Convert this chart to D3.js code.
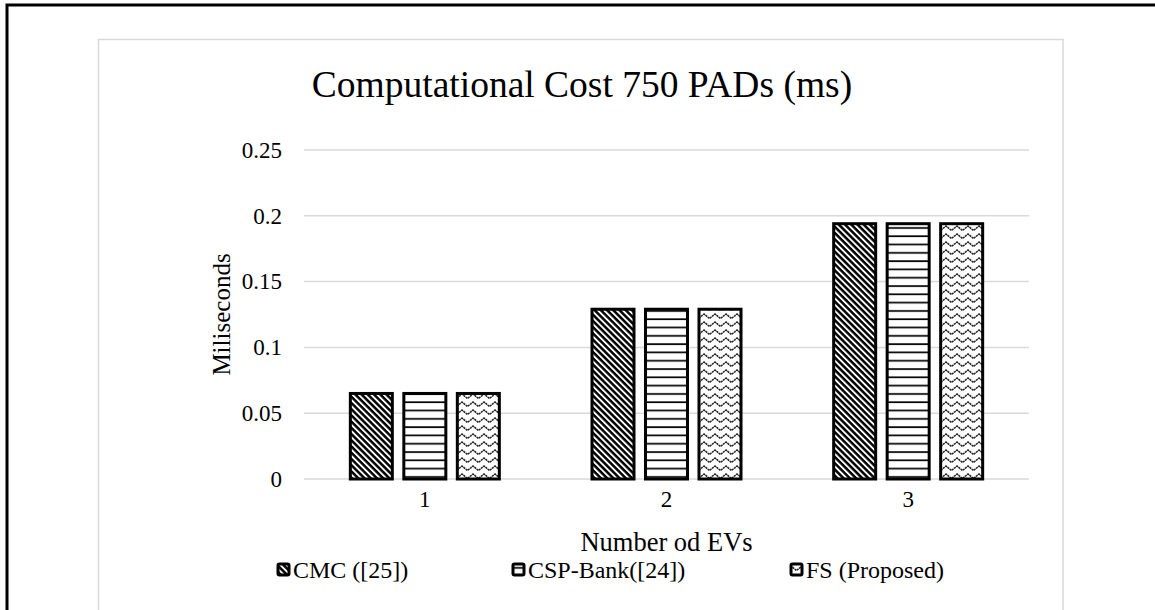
<!DOCTYPE html>
<html>
<head>
<meta charset="utf-8">
<script src="https://cdn.jsdelivr.net/npm/d3@7"></script>
<style>
    body { margin: 0; background: #fff; }
    svg text { font-family: "Liberation Serif", "Times New Roman", serif; fill: #000; }
</style>
</head>
<body>
<div id="chart"></div>
<script>
// data
const categories = ["1", "2", "3"];
const seriesNames = ["CMC ([25])", "CSP-Bank([24])", "FS (Proposed)"];
const cmcValues = [0.065, 0.129, 0.194];
const cspValues = [0.065, 0.129, 0.194];
const fsValues = [0.065, 0.129, 0.194];
const yTicks = [0, 0.05, 0.1, 0.15, 0.2, 0.25];
const patternIds = ["patDiag", "patHoriz", "patZig"];

const seriesValues = [cmcValues, cspValues, fsValues];
const rows = [];
categories.forEach((cat, ci) => {
    seriesNames.forEach((s, si) => {
        rows.push({cat: cat, series: s, si: si, value: seriesValues[si][ci]});
    });
});

const W = 1155, H = 610;
const plot = {left: 304, right: 1029, top: 150, bottom: 479};

const svg = d3.select("#chart").append("svg")
    .attr("width", W)
    .attr("height", H);

// patterns
const defs = svg.append("defs");
const diag = defs.append("pattern")
    .attr("id", "patDiag")
    .attr("patternUnits", "userSpaceOnUse")
    .attr("width", 4.4).attr("height", 4.4)
    .attr("patternTransform", "rotate(45)");
diag.append("rect").attr("width", 4.4).attr("height", 4.4).attr("fill", "#fff");
diag.append("rect").attr("width", 4.4).attr("height", 2.5).attr("fill", "#000");

const horiz = defs.append("pattern")
    .attr("id", "patHoriz")
    .attr("patternUnits", "userSpaceOnUse")
    .attr("width", 10).attr("height", 8.3);
horiz.append("rect").attr("width", 10).attr("height", 8.3).attr("fill", "#fff");
horiz.append("rect").attr("y", 3).attr("width", 10).attr("height", 1.7).attr("fill", "#000");

const zig = defs.append("pattern")
    .attr("id", "patZig")
    .attr("patternUnits", "userSpaceOnUse")
    .attr("width", 11).attr("height", 8);
zig.append("rect").attr("width", 11).attr("height", 8).attr("fill", "#fff");
zig.append("path")
    .attr("d", "M-2.75,4.5 L0,2 L5.5,6.5 L11,2 L13.75,4.5")
    .attr("fill", "none")
    .attr("stroke", "#222")
    .attr("stroke-width", 1.5)
    .attr("stroke-dasharray", "2.2,0.6");

// outer frame and chart area
svg.append("rect")
    .attr("x", 7).attr("y", 5)
    .attr("width", 1300).attr("height", 800)
    .attr("fill", "none")
    .attr("stroke", "#000")
    .attr("stroke-width", 3);
svg.append("rect")
    .attr("x", 98.5).attr("y", 39.5)
    .attr("width", 964.5).attr("height", 600)
    .attr("fill", "#fff")
    .attr("stroke", "#d9d9d9")
    .attr("stroke-width", 1.5);

// scales
const xScale = d3.scaleBand()
    .domain(categories)
    .range([plot.left, plot.right])
    .paddingInner(0).paddingOuter(0);
const xSub = d3.scaleBand()
    .domain(seriesNames)
    .range([-74.5, 74.5])
    .paddingInner(0.215).paddingOuter(0);
const yScale = d3.scaleLinear()
    .domain([0, 0.25])
    .range([plot.bottom, plot.top]);

// gridlines
svg.append("g")
    .attr("class", "gridG")
    .selectAll("line")
    .data(yTicks)
    .join("line")
    .attr("x1", plot.left).attr("x2", plot.right)
    .attr("y1", d => yScale(d)).attr("y2", d => yScale(d))
    .attr("stroke", "#d9d9d9")
    .attr("stroke-width", 1.5);

// y axis labels
const yAxisG = svg.append("g")
    .attr("class", "yAxisG")
    .attr("transform", "translate(" + plot.left + ",0)")
    .call(d3.axisLeft(yScale).tickValues(yTicks).tickSize(0).tickPadding(22)
        .tickFormat(d => String(+d.toFixed(2))));
yAxisG.select(".domain").remove();
yAxisG.selectAll("text")
    .style("font-family", "'Liberation Serif', serif")
    .style("font-size", "23px")
    .attr("fill", "#000");

// x axis labels
const xAxisG = svg.append("g")
    .attr("class", "xAxisG")
    .attr("transform", "translate(0," + plot.bottom + ")")
    .call(d3.axisBottom(xScale).tickSize(0).tickPadding(12));
xAxisG.select(".domain").remove();
xAxisG.selectAll("text")
    .style("font-family", "'Liberation Serif', serif")
    .style("font-size", "23px")
    .attr("fill", "#000");

// bars
svg.append("g")
    .attr("class", "barsG")
    .selectAll("rect")
    .data(rows)
    .join("rect")
    .attr("x", d => xScale(d.cat) + xScale.bandwidth() / 2 + xSub(d.series))
    .attr("width", xSub.bandwidth())
    .attr("y", d => yScale(d.value))
    .attr("height", d => yScale(0) - yScale(d.value))
    .attr("fill", d => "url(#" + patternIds[d.si] + ")")
    .attr("stroke", "#000")
    .attr("stroke-width", 3);

// titles
svg.append("text")
    .attr("x", 582).attr("y", 97)
    .attr("text-anchor", "middle")
    .style("font-size", "37.5px")
    .text("Computational Cost 750 PADs (ms)");
svg.append("text")
    .attr("x", (plot.left + plot.right) / 2).attr("y", 551)
    .attr("text-anchor", "middle")
    .style("font-size", "26.5px")
    .text("Number od EVs");
svg.append("text")
    .attr("transform", "rotate(-90)")
    .attr("x", -(plot.top + plot.bottom) / 2).attr("y", 230)
    .attr("text-anchor", "middle")
    .style("font-size", "25px")
    .text("Miliseconds");

// legend
const legendX = [278, 513, 791];
const legendG = svg.append("g").attr("class", "legendG");
const items = legendG.selectAll("g")
    .data(seriesNames)
    .join("g")
    .attr("transform", (d, i) => "translate(" + legendX[i] + ",564)");
items.append("rect")
    .attr("x", 0).attr("y", 0)
    .attr("width", 11).attr("height", 11)
    .attr("rx", 1.5)
    .attr("fill", (d, i) => "url(#" + patternIds[i] + ")")
    .attr("stroke", "#000")
    .attr("stroke-width", 3);
items.append("text")
    .attr("x", 15).attr("y", 14)
    .style("font-size", "24px")
    .text(d => d);
</script>
</body>
</html>
